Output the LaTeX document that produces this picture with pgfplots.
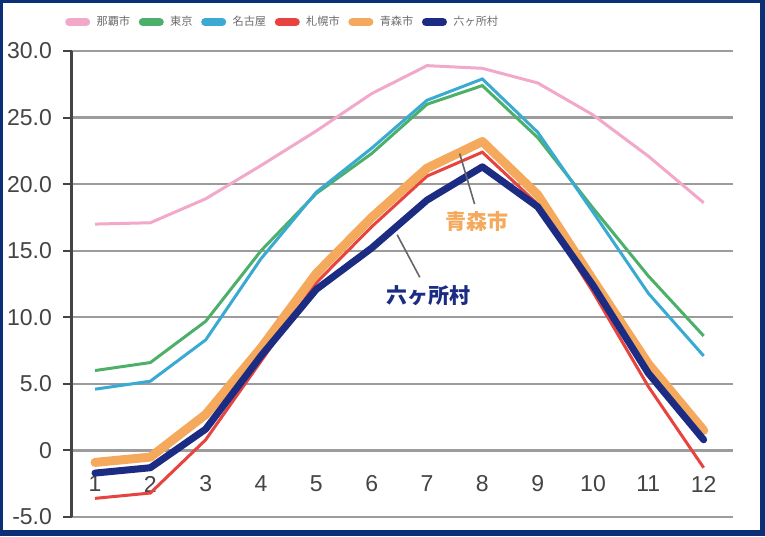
\documentclass[border=0pt]{standalone}
\usepackage{fontspec}
\setmainfont{Liberation Sans}
\newfontfamily\cjk{Noto Sans CJK JP}
\usepackage{pgfplots}
\pgfplotsset{compat=1.18}
\definecolor{cNaha}{HTML}{F2A9C9}
\definecolor{cTokyo}{HTML}{4DB06A}
\definecolor{cNagoya}{HTML}{3AAAD2}
\definecolor{cSapporo}{HTML}{E8443F}
\definecolor{cAomori}{HTML}{F5A95C}
\definecolor{cRokka}{HTML}{1B2C82}
\definecolor{cFrame}{HTML}{0B3078}
\definecolor{cGrid}{HTML}{9C9C9C}
\definecolor{cAxis}{HTML}{444444}
\begin{document}
\begin{tikzpicture}
\fill[cFrame] (-36pt,-9.5pt) rectangle (346.5pt,258.5pt);
\fill[white] (-34.5pt,-6.5pt) rectangle (344pt,257pt);
\useasboundingbox (-36pt,-9.5pt) rectangle (346.5pt,258.5pt);
\begin{axis}[
  scale only axis, width=330.5pt, height=233pt,
  xmin=0.584, xmax=12.53, ymin=-5, ymax=30,
  clip=false,
  axis lines*=left,
  axis line style={-},
  separate axis lines,
  x axis line style={draw=cGrid, line width=1.2pt},
  y axis line style={draw=cAxis, line width=1.5pt},
  xtick={1,...,12},
  xtick style={draw=none},
  xticklabel style={anchor=center, yshift=21pt, text=cAxis, font=\fontsize{11.5}{13}\selectfont},
  ytick={-5,0,5,10,15,20,25,30},
  yticklabels={-5.0,0,5.0,10.0,15.0,20.0,25.0,30.0},
  yticklabel style={text=cAxis, font=\fontsize{11.5}{13}\selectfont, xshift=-2pt},
  ytick style={draw=cAxis, line width=1pt},
  tick align=outside,
  major tick length=4.5pt,
  ymajorgrids,
  major grid style={draw=cGrid, line width=1.2pt},
  /pgf/number format/assume math mode=true,
  legend columns=6,
  legend style={draw=none, fill=none, at={(-0.02,1.062)}, anchor=west,
    font=\cjk\fontsize{5.6}{6}\selectfont, text=gray!85!black,
    column sep=3.2pt,
    /tikz/every even column/.append style={column sep=4.3pt},
    nodes={inner sep=0pt}},
  legend image code/.code={\draw[#1, line width=4pt, line cap=round] (2pt,0pt) -- (10.5pt,0pt);},
]
\addplot[cNaha, line width=1.5pt] coordinates {(1,17.0)(2,17.1)(3,18.9)(4,21.4)(5,24.0)(6,26.8)(7,28.9)(8,28.7)(9,27.6)(10,25.2)(11,22.1)(12,18.6)};
\addlegendentry{那覇市}
\addplot[cTokyo, line width=1.5pt] coordinates {(1,6.0)(2,6.6)(3,9.7)(4,15.0)(5,19.3)(6,22.3)(7,26.0)(8,27.4)(9,23.5)(10,18.2)(11,13.1)(12,8.6)};
\addlegendentry{東京}
\addplot[cNagoya, line width=1.5pt] coordinates {(1,4.6)(2,5.2)(3,8.3)(4,14.4)(5,19.4)(6,22.7)(7,26.3)(8,27.9)(9,23.9)(10,17.9)(11,11.8)(12,7.1)};
\addlegendentry{名古屋}
\addplot[cSapporo, line width=1.5pt] coordinates {(1,-3.6)(2,-3.2)(3,0.8)(4,6.7)(5,12.6)(6,16.8)(7,20.6)(8,22.4)(9,18.5)(10,11.9)(11,4.8)(12,-1.3)};
\addlegendentry{札幌市}
\addplot[cAomori, line width=4.5pt, line join=round, line cap=round] coordinates {(1,-0.9)(2,-0.5)(3,2.7)(4,7.7)(5,13.3)(6,17.5)(7,21.2)(8,23.2)(9,19.2)(10,12.8)(11,6.5)(12,1.5)};
\addlegendentry{青森市}
\addplot[cRokka, line width=3.5pt, line join=round, line cap=round] coordinates {(1,-1.7)(2,-1.3)(3,1.6)(4,7.1)(5,12.1)(6,15.2)(7,18.8)(8,21.3)(9,18.3)(10,12.4)(11,5.8)(12,0.8)};
\addlegendentry{六ヶ所村}
\draw[gray!80!black, line width=0.8pt] (axis cs:7.59,22.3) -- (axis cs:7.86,18.5);
\node[text=cAomori, font=\cjk\bfseries\fontsize{10.5}{12}\selectfont] at (axis cs:7.90,17.2) {青森市};
\draw[gray!80!black, line width=0.8pt] (axis cs:6.46,16.2) -- (axis cs:6.87,13.0);
\node[text=cRokka, font=\cjk\bfseries\fontsize{10.5}{12}\selectfont] at (axis cs:7.03,11.65) {六ヶ所村};
\end{axis}
\end{tikzpicture}
\end{document}
